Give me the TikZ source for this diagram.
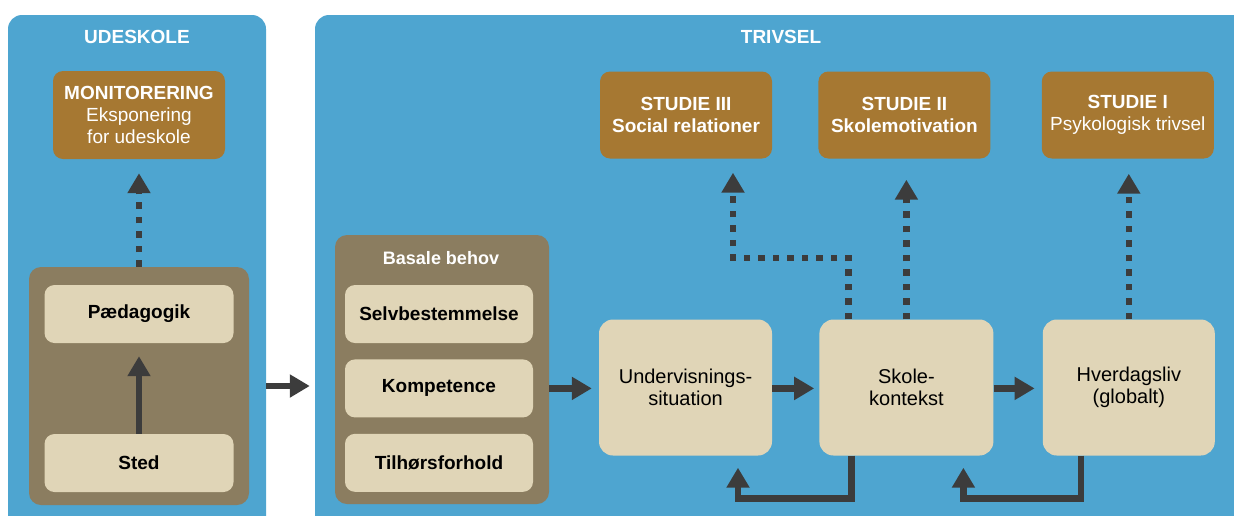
\documentclass[tikz,border=0pt]{standalone}
\usepackage{fontspec}
\setmainfont{Liberation Sans}
\usetikzlibrary{arrows.meta,positioning}

\definecolor{panelblue}{RGB}{78,165,208}
\definecolor{studybrown}{RGB}{166,120,50}
\definecolor{groupgrey}{RGB}{139,125,96}
\definecolor{boxbeige}{RGB}{224,213,183}
\definecolor{arrowdark}{RGB}{60,60,60}

\newcommand\boxfont{\fontsize{19}{22}\selectfont}

\begin{document}
\begin{tikzpicture}[x=1pt, y=-1pt,
  panel/.style={fill=panelblue, rounded corners=14pt, inner sep=0pt},
  grp/.style={fill=groupgrey, rounded corners=12pt, inner sep=0pt},
  study/.style={fill=studybrown, rounded corners=10pt, text=white, align=center,
    minimum width=172pt, minimum height=87pt, inner sep=0pt, font=\boxfont},
  item/.style={fill=boxbeige, rounded corners=10pt, align=center, inner sep=0pt,
    minimum width=189pt, minimum height=58pt, font=\boxfont\bfseries},
  proc/.style={fill=boxbeige, rounded corners=14pt, align=center, inner sep=0pt,
    minimum width=173pt, minimum height=136pt, font=\fontsize{20}{22}\selectfont},
  title/.style={text=white, font=\boxfont\bfseries},
  arr/.style={draw=arrowdark, line width=6.5pt, -{Triangle[width=22pt,length=20pt]}},
  dotarr/.style={arr, line width=6.5pt, dash pattern=on 6.5pt off 8pt},
]

  \useasboundingbox (0,0) rectangle (1234,515);
  \clip (0,0) rectangle (1234,515);

  % Panels
  \node[panel, minimum width=258pt, minimum height=525pt] (lpanel) at (137,277.5) {};
  \node[panel, minimum width=945pt, minimum height=525pt] (rpanel) at (787.5,277.5) {};
  \node[title] (udeT) at (137,37) {UDESKOLE};
  \node[title] (trivT) at (781,37) {TRIVSEL};

  % Define nodes: udeskole
  \node[study, minimum height=88pt] (moni) at (139,115)
    {\textbf{MONITORERING}\\Eksponering\\for udeskole};
  \node[grp, minimum width=220pt, minimum height=238pt] (udegrp) at (139,386) {};
  \node[item] (paed) at (139,314) {Pædagogik};
  \node[item] (sted) at (139,463) {Sted};

  % Define nodes: basale behov
  \node[grp, minimum width=214pt, minimum height=269pt] (basgrp) at (442,369.5) {};
  \node[title, font=\fontsize{18}{21}\selectfont\bfseries] (basT) at (441,258) {Basale behov};
  \node[item, minimum width=188pt] (selv) at (439,314) {Selvbestemmelse};
  \node[item, minimum width=188pt, below=16pt of selv] (komp) {Kompetence};
  \node[item, minimum width=188pt, below=16pt of komp] (tilh) {Tilhørsforhold};

  % Define nodes: studier
  \node[study] (st3) at (686,115) {\textbf{STUDIE III}\\\textbf{Social relationer}};
  \node[study, right=46pt of st3] (st2) {\textbf{STUDIE II}\\\textbf{Skolemotivation}};
  \node[study, right=51pt of st2] (st1) {\textbf{STUDIE I}\\Psykologisk trivsel};

  % Define nodes: kontekster
  \node[proc] (underv) at (685.5,387.5) {Undervisnings-\\situation};
  \node[proc, minimum width=174pt, right=47pt of underv] (skole) {Skole-\\kontekst};
  \node[proc, minimum width=172pt, right=49pt of skole] (hverd) {Hverdagsliv\\(globalt)};

  % Connect the nodes
  \draw[arr, shorten >=13pt] (sted.north) -- (paed.south);
  \draw[dotarr, shorten >=14pt] (udegrp.north) -- (moni.south);
  \draw[arr, shorten >=5pt] (lpanel.east |- udegrp) -- (rpanel.west |- udegrp);
  \draw[arr, shorten >=7pt] (basgrp.east |- komp) -- (underv.west |- komp);
  \draw[arr, shorten >=5pt] (underv.east |- komp) -- (skole.west |- komp);
  \draw[arr, shorten >=8pt] (skole.east |- komp) -- (hverd.west |- komp);

  % Feedback
  \draw[arr, shorten >=12pt] ([xshift=-55pt]skole.south) -- ++(0,43) -| ([xshift=52.5pt]underv.south);
  \draw[arr, shorten >=12pt] ([xshift=-48pt]hverd.south) -- ++(0,43) -| ([xshift=57pt]skole.south);

  % To the studies
  \coordinate (bend) at (733,258);
  \draw[dotarr, shorten >=14pt] ([xshift=-58pt]skole.north) |- (bend) -- (bend |- st3.south);
  \draw[dotarr, shorten >=21pt] (skole.north) -- (skole.north |- st2.south);
  \draw[dotarr, shorten >=15pt] (hverd.north) -- (hverd.north |- st1.south);

\end{tikzpicture}
\end{document}
